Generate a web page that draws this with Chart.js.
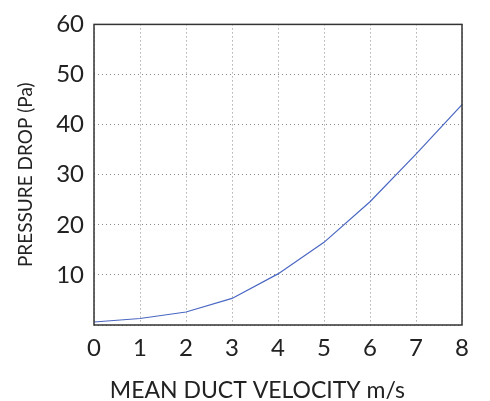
<!DOCTYPE html>
<html>
<head>
<meta charset="utf-8">
<script src="https://cdn.jsdelivr.net/npm/chart.js@4"></script>
<style>
html,body{margin:0;padding:0;background:#fff;}
#wrap{width:490px;height:401px;}
</style>
</head>
<body>
<div id="wrap"><canvas id="c" width="490" height="401"></canvas></div>
<script>
const velocity = [0, 1, 2, 3, 4, 5, 6, 7, 8];
const pressureDrop = [0.6, 1.3, 2.6, 5.3, 10.2, 16.5, 24.6, 34.1, 44];
const xTicks = [0, 1, 2, 3, 4, 5, 6, 7, 8];
const yTicks = [10, 20, 30, 40, 50, 60];
const xTitle = 'MEAN DUCT VELOCITY m/s';
const yTitle = 'PRESSURE DROP (Pa)';

const FONT = 'Lato';
const points = velocity.map((v, i) => ({x: v, y: pressureDrop[i]}));

const frame = {
  id: 'frame',
  afterDraw(chart) {
    const a = chart.chartArea, ctx = chart.ctx;
    ctx.save();
    ctx.strokeStyle = '#333';
    ctx.lineWidth = 1.5;
    ctx.strokeRect(a.left, a.top, a.right - a.left, a.bottom - a.top);
    ctx.restore();
  }
};

new Chart(document.getElementById('c'), {
  type: 'line',
  data: {
    datasets: [{
      data: points,
      borderColor: '#4a67c2',
      borderWidth: 1.2,
      pointRadius: 0,
      tension: 0,
      fill: false
    }]
  },
  options: {
    responsive: false,
    animation: false,
    layout: {padding: {top: 18, right: 28, left: 0, bottom: 0}},
    plugins: {legend: {display: false}, tooltip: {enabled: false}},
    scales: {
      x: {
        type: 'linear',
        min: 0, max: 8,
        afterBuildTicks(s) { s.ticks = xTicks.map(v => ({value: v})); },
        afterFit(s) { s.height = 76; },
        grid: {color: '#8a8a8a', lineWidth: 1, drawTicks: false},
        border: {display: false, dash: [1, 3]},
        ticks: {color: '#222', font: {family: FONT, size: 24}, padding: 9},
        title: {display: true, text: xTitle + '       ', color: '#222', font: {family: FONT, size: 23}, padding: {top: 0, bottom: -3}}
      },
      y: {
        min: 0, max: 60,
        afterBuildTicks(s) { s.ticks = [0].concat(yTicks).map(v => ({value: v})); },
        afterFit(s) { s.width = 94; },
        grid: {color: '#8a8a8a', lineWidth: 1, drawTicks: false},
        border: {display: false, dash: [1, 3]},
        ticks: {color: '#222', font: {family: FONT, size: 24}, padding: 10,
          callback: v => v === 0 ? '' : v},
        title: {display: true, text: yTitle, color: '#222', font: {family: FONT, size: 19}, padding: {top: 14, bottom: 0}}
      }
    }
  },
  plugins: [frame]
});
</script>
</body>
</html>
